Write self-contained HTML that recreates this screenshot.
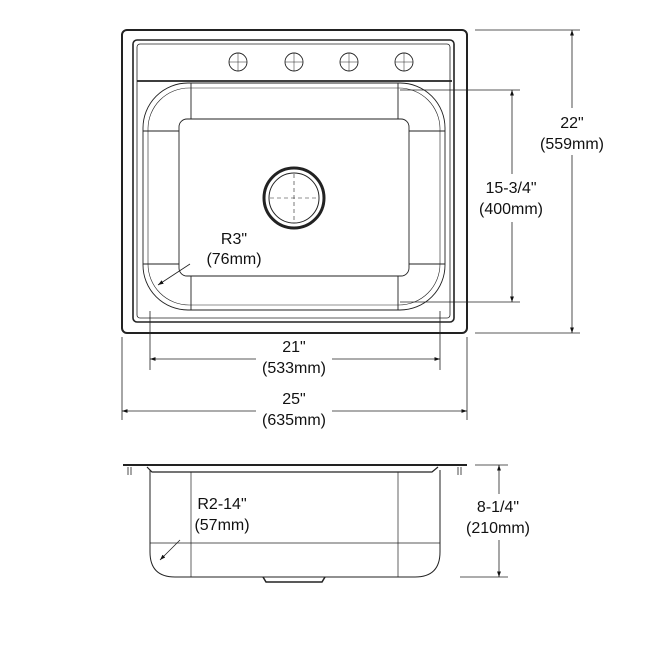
<!DOCTYPE html>
<html><head><style>body{margin:0;background:#fff}svg{display:block}text{font-family:"Liberation Sans",sans-serif;font-size:16px;fill:#111}</style></head><body>
<svg width="646" height="646" viewBox="0 0 646 646" xmlns="http://www.w3.org/2000/svg">
<defs><marker id="a" viewBox="0 0 10 10" refX="10" refY="5" markerWidth="7" markerHeight="7" orient="auto-start-reverse"><path d="M0,1.5L10,5L0,8.5z" fill="#111"/></marker></defs>
<g fill="none" stroke="#222">
<rect x="122" y="30" width="345" height="303" rx="5" stroke-width="2"/>
<rect x="133" y="40" width="321" height="282" rx="4" stroke-width="1.6"/>
<rect x="137" y="44" width="313" height="274" rx="3" stroke-width="0.8"/>
<line x1="137" y1="81" x2="452" y2="81" stroke-width="1.8"/>
<g stroke-width="0.9">
<circle cx="238" cy="62" r="9"/><circle cx="294" cy="62" r="9"/><circle cx="349" cy="62" r="9"/><circle cx="404" cy="62" r="9"/>
<path d="M229 62h18M238 53v18M285 62h18M294 53v18M340 62h18M349 53v18M395 62h18M404 53v18" stroke-width="0.5"/>
<rect x="143" y="83" width="302" height="227" rx="45"/>
<rect x="148" y="88" width="292" height="217" rx="41" stroke-width="0.6"/>
<rect x="179" y="119" width="230" height="157" rx="8"/>
<path d="M191 83V119M398 83V119M191 276V310M398 276V310M143 131H179M409 131H445M143 264H179M409 264H445"/>
</g>
<circle cx="294" cy="198" r="30" stroke-width="3"/>
<circle cx="294" cy="198" r="25" stroke-width="1"/>
<path d="M270 198h48M294 174v48" stroke-width="0.6" stroke-dasharray="4 3"/>
<g stroke-width="0.8">
<path d="M475 30H580M475 333H580M400 90H520M400 302H520M150 311V370M440 311V370M122 337V420M467 337V420"/>
<line x1="572" y1="30" x2="572" y2="333" marker-start="url(#a)" marker-end="url(#a)"/>
<line x1="512" y1="90" x2="512" y2="302" marker-start="url(#a)" marker-end="url(#a)"/>
<line x1="150" y1="359" x2="440" y2="359" marker-start="url(#a)" marker-end="url(#a)"/>
<line x1="122" y1="411" x2="467" y2="411" marker-start="url(#a)" marker-end="url(#a)"/>
<line x1="190" y1="264" x2="158" y2="285" marker-end="url(#a)"/>
<line x1="180" y1="540" x2="160" y2="560" marker-end="url(#a)"/>
<path d="M475 465H508M460 577H508"/>
<line x1="499" y1="465" x2="499" y2="577" marker-start="url(#a)" marker-end="url(#a)"/>
</g>
<g stroke-width="1">
<path d="M123 465H467" stroke-width="2"/>
<path d="M128 467V475M131 467V475M458 467V475M461 467V475" stroke-width="0.8"/>
<path d="M147 467L152 472H432L438 467" stroke-width="1.2"/>
<path d="M150 470V552Q150 577 175 577H415Q440 577 440 552V470"/>
<path d="M191 472V577M398 472V577M150 543H440" stroke-width="0.7"/>
<path d="M263 577L266 582H322L325 577" stroke-width="1.5"/>
</g>
</g>
<g fill="#fff">
<rect x="546" y="108" width="52" height="47"/>
<rect x="474" y="174" width="74" height="48"/>
<rect x="256" y="338" width="76" height="40"/>
<rect x="256" y="390" width="76" height="40"/>
<rect x="464" y="494" width="68" height="46"/>
</g>
<g text-anchor="middle">
<text x="572" y="128">22"</text><text x="572" y="149">(559mm)</text>
<text x="511" y="193">15-3/4"</text><text x="511" y="214">(400mm)</text>
<text x="234" y="244">R3"</text><text x="234" y="264">(76mm)</text>
<text x="294" y="352">21"</text><text x="294" y="373">(533mm)</text>
<text x="294" y="404">25"</text><text x="294" y="425">(635mm)</text>
<text x="222" y="509">R2-14"</text><text x="222" y="530">(57mm)</text>
<text x="498" y="512">8-1/4"</text><text x="498" y="533">(210mm)</text>
</g>
</svg>
</body></html>
